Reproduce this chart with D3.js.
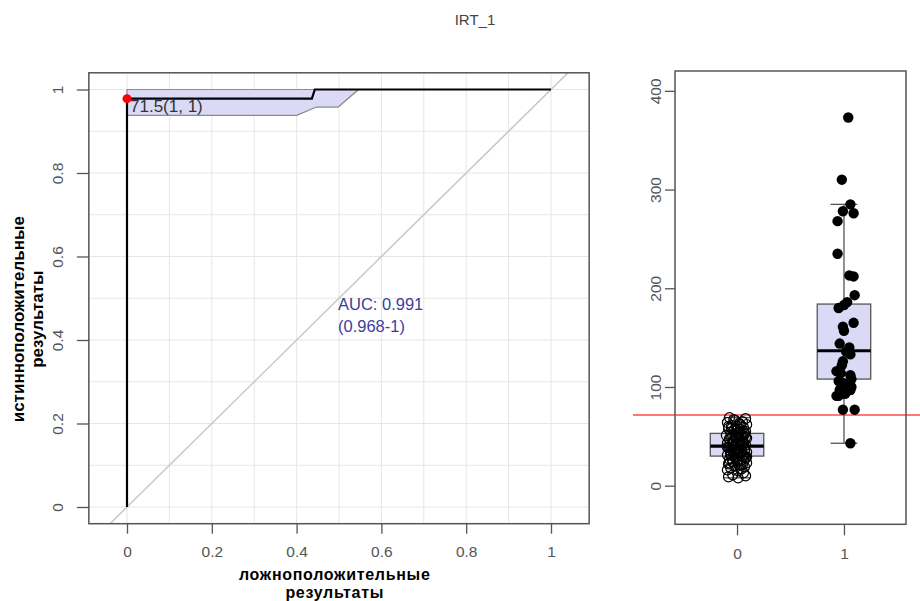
<!DOCTYPE html>
<html><head><meta charset="utf-8">
<script src="https://cdn.jsdelivr.net/npm/d3@7"></script>
<style>
html,body{margin:0;padding:0;background:#fff;}
svg{display:block;font-family:"Liberation Sans",Arial,sans-serif;}
</style></head>
<body>
<script>
// ---------------- data ----------------
const title = "IRT_1";
const rocTicks = [0, 0.2, 0.4, 0.6, 0.8, 1];
const rocGrid = [0,0.1,0.2,0.3,0.4,0.5,0.6,0.7,0.8,0.9,1];
const rocFpr = [0, 0, 0.436, 0.443, 1];
const rocTpr = [0, 0.978, 0.978, 1, 1];
const ciFpr = [0, 0.40, 0.447, 0.498, 0.546];
const ciLower = [0.938, 0.938, 0.958, 0.958, 1.0];
const ciUpper = [1, 1, 1, 1, 1];
const bestPoint = {fpr: 0, tpr: 0.978, label: "71.5(1, 1)"};
const aucLines = ["AUC: 0.991", "(0.968-1)"];
const xLabelLines = ["ложноположительные", "результаты"];
const yLabelLines = ["истинноположительные", "результаты"];

const groups = ["0", "1"];
const boxQ1 = [30, 108];
const boxMedian = [40, 136.7];
const boxQ3 = [53, 184];
const whiskLo = [8, 43];
const whiskHi = [69, 285];
const threshold = 71.5;
const boxTicks = [0, 100, 200, 300, 400];

const vals0 = [69,68,66,65,64,63,62,61,60,59,58,57,56,55,54,53,52,51,50,49,48,47,46,45,44,43,42,41,40,40,39,38,37,36,35,34,33,32,31,30,29,28,27,26,25,24,23,22,21,20,19,18,17,16,15,13,11,9,8,10,67,50,45,35,30,
  62,58,55,52,49,47,44,42,41,39,38,36,34,33,31,29,27,25,23,21,60,56,53,48,46,43,37,35,32,28,26,24,51,45,40,39,36,30,57,54];
const jit0 = [-0.07,0.08,-0.02,0.05,-0.09,0.02,0.09,-0.05,0.0,0.06,-0.08,0.03,-0.03,0.08,-0.06,0.01,0.07,-0.1,0.04,-0.01,0.09,-0.07,0.02,-0.04,0.06,-0.09,0.0,0.08,-0.03,0.05,-0.08,0.03,-0.05,0.07,-0.01,0.09,-0.06,0.02,-0.09,0.05,-0.02,0.08,-0.07,0.01,0.06,-0.04,0.09,-0.08,0.03,-0.02,0.07,-0.06,0.04,-0.09,0.01,0.06,-0.04,-0.08,0.01,0.08,-0.03,0.0,0.05,-0.06,0.07,
  0.03,-0.05,0.06,-0.02,0.08,-0.07,0.01,-0.04,0.05,-0.09,0.02,0.07,-0.03,0.04,-0.06,0.09,-0.01,0.03,-0.07,0.05,-0.08,0.0,0.07,-0.05,0.02,0.06,-0.02,0.04,-0.06,0.08,-0.04,0.01,0.05,-0.03,0.03,-0.07,0.0,0.06,-0.01,0.02];
const vals1 = [373,310,285,278,276,268,235,213,212,193,186,183,180,165,161,157,144,140,136,133,126,122,116,114,112,108,106,104,101,100,97,97,93,91,91,77,77,43];
const jit1 = [0.04,-0.02,0.06,-0.01,0.09,-0.06,-0.06,0.05,0.09,0.10,0.03,0.0,-0.05,0.09,-0.01,0.0,-0.04,0.05,0.02,0.06,-0.01,-0.02,-0.07,-0.03,0.06,0.07,-0.05,-0.01,0.03,0.07,-0.04,0.06,0.01,-0.05,-0.07,-0.01,0.10,0.06];

// ---------------- drawing ----------------
const W = 920, H = 601;
const svg = d3.select("body").append("svg").attr("width", W).attr("height", H);
const tickCol = "#555", labCol = "#555";

svg.append("text").attr("x", 475).attr("y", 25).attr("text-anchor", "middle")
  .attr("font-size", 15).attr("fill", "#444").text(title);

// ----- ROC panel -----
const x = d3.scaleLinear().domain([0, 1]).range([127, 551]);
const y = d3.scaleLinear().domain([0, 1]).range([507, 89.5]);
const xL = x(-0.09), xR = x(1.09), yT = y(1.04), yB = y(-0.04);
const roc = svg.append("g");
const clipId = "rocclip";
svg.append("clipPath").attr("id", clipId).append("rect")
  .attr("x", xL).attr("y", yT).attr("width", xR - xL).attr("height", yB - yT);

const inner = roc.append("g").attr("clip-path", `url(#${clipId})`);
inner.selectAll(".gv").data(rocGrid).join("line")
  .attr("x1", d => x(d)).attr("x2", d => x(d)).attr("y1", yT).attr("y2", yB)
  .attr("stroke", "#e6e6e6").attr("stroke-width", 1);
inner.selectAll(".gh").data(rocGrid).join("line")
  .attr("y1", d => y(d)).attr("y2", d => y(d)).attr("x1", xL).attr("x2", xR)
  .attr("stroke", "#e6e6e6").attr("stroke-width", 1);
// diagonal
inner.append("line").attr("x1", x(-0.05)).attr("y1", y(-0.05)).attr("x2", x(1.05)).attr("y2", y(1.05))
  .attr("stroke", "#c8c8c8").attr("stroke-width", 1.5);
// CI band
const bandPts = ciFpr.map((f, i) => [x(f), y(ciUpper[i])])
  .concat(ciFpr.map((f, i) => [x(f), y(ciLower[i])]).reverse());
inner.append("path").attr("d", d3.line()(bandPts) + "Z")
  .attr("fill", "#dadaf7").attr("stroke", "#8a8a8a").attr("stroke-width", 1.2);
// ROC curve
inner.append("path").attr("d", d3.line()(rocFpr.map((f, i) => [x(f), y(rocTpr[i])])))
  .attr("fill", "none").attr("stroke", "#000").attr("stroke-width", 2.2);
// best point
inner.append("circle").attr("cx", x(bestPoint.fpr)).attr("cy", y(bestPoint.tpr)).attr("r", 4.5).attr("fill", "#ff0000");
roc.append("text").attr("x", x(bestPoint.fpr) + 3).attr("y", y(bestPoint.tpr) + 13)
  .attr("font-size", 17).attr("fill", "#333").text(bestPoint.label);
// AUC
roc.selectAll(".auc").data(aucLines).join("text")
  .attr("x", x(0.5) - 1).attr("y", (d, i) => y(0.47) - 1 + i * 22)
  .attr("font-size", 16.5).attr("fill", "#3d3d9c").text(d => d);
// frame
roc.append("rect").attr("x", xL).attr("y", yT).attr("width", xR - xL).attr("height", yB - yT)
  .attr("fill", "none").attr("stroke", "#555").attr("stroke-width", 1.5);
// axes
const xAx = roc.append("g").attr("transform", `translate(0,${yB})`)
  .call(d3.axisBottom(x).tickValues(rocTicks).tickSize(10).tickPadding(12).tickFormat(d3.format("~g")));
const yAx = roc.append("g").attr("transform", `translate(${xL},0)`)
  .call(d3.axisLeft(y).tickValues(rocTicks).tickSize(12).tickFormat(d3.format("~g")));
[xAx, yAx].forEach(g => {
  g.select(".domain").remove();
  g.selectAll(".tick line").attr("stroke", tickCol).attr("stroke-width", 1.3);
  g.selectAll(".tick text").attr("fill", labCol).attr("font-size", 15.5).attr("font-family", "Liberation Sans, Arial");
});
yAx.selectAll(".tick text").attr("text-anchor", "middle").attr("dy", null).attr("x", null)
  .attr("dominant-baseline", "central")
  .attr("transform", d => `translate(-31,0) rotate(-90)`);
// axis titles
roc.selectAll(".xl").data(xLabelLines).join("text")
  .attr("x", x(0.49)).attr("y", (d, i) => 580 + i * 18).attr("text-anchor", "middle")
  .attr("font-size", 16).attr("letter-spacing", 0.7).attr("font-weight", "bold").attr("fill", "#000").text(d => d);
roc.selectAll(".yl").data(yLabelLines).join("text")
  .attr("transform", (d, i) => `translate(${24 + i * 19},${y(0.45)}) rotate(-90)`)
  .attr("text-anchor", "middle")
  .attr("font-size", 17).attr("font-weight", "bold").attr("fill", "#000").text(d => d);

// ----- box panel -----
const bx = d3.scaleLinear().domain([0.42, 2.58]).range([675, 906]);
const by = d3.scaleLinear().domain([-39.1, 420.1]).range([524.3, 71]);
const bw = 0.5;
const bp = svg.append("g");
// threshold line
bp.append("line").attr("x1", 633).attr("x2", W).attr("y1", by(threshold)).attr("y2", by(threshold))
  .attr("stroke", "#ff4a4a").attr("stroke-width", 1.5);
groups.forEach((g, i) => {
  const c = i + 1;
  bp.append("line").attr("x1", bx(c)).attr("x2", bx(c)).attr("y1", by(whiskHi[i])).attr("y2", by(boxQ3[i]))
    .attr("stroke", "#555").attr("stroke-width", 1.3);
  bp.append("line").attr("x1", bx(c)).attr("x2", bx(c)).attr("y1", by(boxQ1[i])).attr("y2", by(whiskLo[i]))
    .attr("stroke", "#555").attr("stroke-width", 1.3);
  [whiskHi[i], whiskLo[i]].forEach(v => bp.append("line")
    .attr("x1", bx(c - bw / 4)).attr("x2", bx(c + bw / 4)).attr("y1", by(v)).attr("y2", by(v))
    .attr("stroke", "#555").attr("stroke-width", 1.3));
  bp.append("rect").attr("x", bx(c - bw / 2)).attr("width", bx(c + bw / 2) - bx(c - bw / 2))
    .attr("y", by(boxQ3[i])).attr("height", by(boxQ1[i]) - by(boxQ3[i]))
    .attr("fill", "#dadaf7").attr("stroke", "#555").attr("stroke-width", 1.3);
  bp.append("line").attr("x1", bx(c - bw / 2)).attr("x2", bx(c + bw / 2))
    .attr("y1", by(boxMedian[i])).attr("y2", by(boxMedian[i]))
    .attr("stroke", "#000").attr("stroke-width", 3.2);
});
bp.selectAll(".p0").data(vals0).join("circle")
  .attr("cx", (d, i) => bx(1 + jit0[i])).attr("cy", d => by(d)).attr("r", 5)
  .attr("fill", "none").attr("stroke", "#000").attr("stroke-width", 1.2);
bp.selectAll(".p1").data(vals1).join("circle")
  .attr("cx", (d, i) => bx(2 + jit1[i])).attr("cy", d => by(d)).attr("r", 5.2)
  .attr("fill", "#000");
bp.append("rect").attr("x", 675).attr("y", 71).attr("width", 906 - 675).attr("height", 524.3 - 71)
  .attr("fill", "none").attr("stroke", "#555").attr("stroke-width", 1.5);
const bxAx = bp.append("g").attr("transform", `translate(0,524.3)`)
  .call(d3.axisBottom(bx).tickValues([1, 2]).tickSize(11).tickPadding(13).tickFormat((d, i) => groups[i]));
const byAx = bp.append("g").attr("transform", `translate(675,0)`)
  .call(d3.axisLeft(by).tickValues(boxTicks).tickSize(10));
[bxAx, byAx].forEach(g => {
  g.select(".domain").remove();
  g.selectAll(".tick line").attr("stroke", tickCol).attr("stroke-width", 1.3);
  g.selectAll(".tick text").attr("fill", labCol).attr("font-size", 15.5).attr("font-family", "Liberation Sans, Arial");
});
byAx.selectAll(".tick text").attr("text-anchor", "middle").attr("dy", null).attr("x", null)
  .attr("dominant-baseline", "central")
  .attr("transform", `translate(-20,0) rotate(-90)`);
</script>
</body></html>
